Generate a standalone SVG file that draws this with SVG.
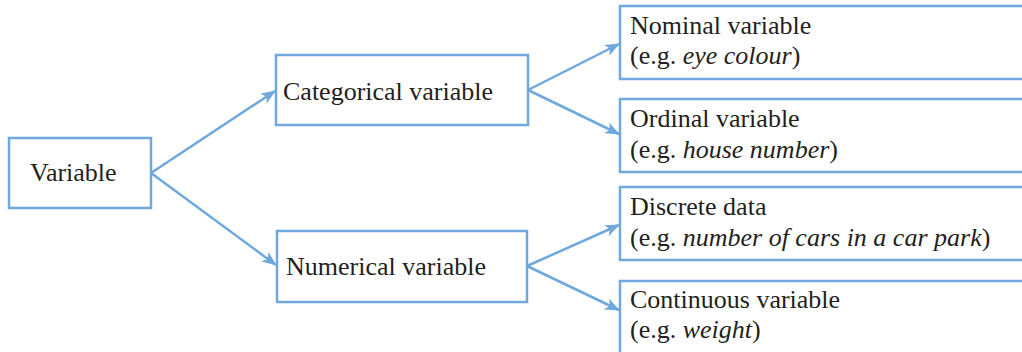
<svg xmlns="http://www.w3.org/2000/svg" width="1022" height="352" viewBox="0 0 1022 352">
<style>
.box{fill:#fff;stroke:#6fa8dc;stroke-width:2.5}
.t{font-family:"Liberation Serif","Times New Roman",serif;font-size:26px;fill:#231f20}
.i{font-style:italic}
.c{fill:none;stroke:#6fa8dc;stroke-width:2.5}
</style>
<defs>
<marker id="ah" markerWidth="16" markerHeight="12" refX="14" refY="6" orient="auto" markerUnits="userSpaceOnUse">
<path d="M0,0 L15,6 L0,12 L4,6 Z" fill="#6fa8dc"/>
</marker>
</defs>
<rect width="1022" height="352" fill="#fff"/>
<g id="connectors">
<line class="c" x1="151" y1="173" x2="275" y2="91" marker-end="url(#ah)"/>
<line class="c" x1="151" y1="173" x2="276" y2="265" marker-end="url(#ah)"/>
<line class="c" x1="528" y1="90" x2="619" y2="44" marker-end="url(#ah)"/>
<line class="c" x1="528" y1="90" x2="619" y2="134" marker-end="url(#ah)"/>
<line class="c" x1="527" y1="266" x2="619" y2="225" marker-end="url(#ah)"/>
<line class="c" x1="527" y1="266" x2="619" y2="310" marker-end="url(#ah)"/>
</g>
<g id="variable">
<rect class="box" x="9" y="138" width="142" height="70"/>
<text class="t" x="30" y="181">Variable</text>
</g>
<g id="categorical">
<rect class="box" x="276" y="55" width="252" height="70"/>
<text class="t" x="283" y="100">Categorical variable</text>
</g>
<g id="numerical">
<rect class="box" x="277" y="231" width="250" height="71"/>
<text class="t" x="286" y="275">Numerical variable</text>
</g>
<g id="nominal">
<rect class="box" x="620" y="6" width="420" height="73"/>
<text class="t" x="630" y="34">Nominal variable</text>
<text class="t" x="630" y="64">(e.g. <tspan class="i">eye colour</tspan>)</text>
</g>
<g id="ordinal">
<rect class="box" x="620" y="99" width="420" height="73"/>
<text class="t" x="630" y="127">Ordinal variable</text>
<text class="t" x="630" y="158">(e.g. <tspan class="i">house number</tspan>)</text>
</g>
<g id="discrete">
<rect class="box" x="620" y="187" width="420" height="73"/>
<text class="t" x="630" y="215">Discrete data</text>
<text class="t" x="630" y="246">(e.g. <tspan class="i">number of cars in a car park</tspan>)</text>
</g>
<g id="continuous">
<rect class="box" x="620" y="281" width="420" height="90"/>
<text class="t" x="630" y="308">Continuous variable</text>
<text class="t" x="630" y="338">(e.g. <tspan class="i">weight</tspan>)</text>
</g>
</svg>
